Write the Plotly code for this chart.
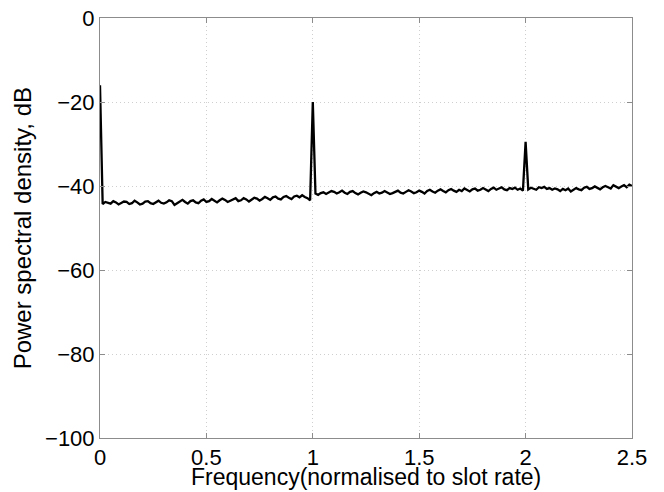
import numpy as np
import plotly.graph_objects as go

# Power spectral density (dB), sampled every 0.0125 of the slot rate from 0 to 2.5
psd_db = [
    -16.0, -44.3, -43.8, -44.0, -44.2, -43.6, -43.9, -44.4, -44.0, -43.7,
    -43.8, -44.3, -44.1, -43.5, -43.9, -44.4, -44.2, -43.7, -43.6, -44.1,
    -44.3, -43.8, -43.5, -44.0, -44.2, -43.9, -43.4, -43.6, -44.5, -44.1,
    -43.7, -43.3, -43.8, -44.2, -43.6, -43.4, -43.9, -44.1, -43.5, -43.2,
    -43.8, -43.6, -43.1, -43.5, -43.9, -43.4, -43.0, -43.3, -43.8, -43.5,
    -43.1, -42.9, -43.6, -43.4, -42.9, -43.2, -43.7, -43.3, -42.8, -43.0,
    -43.5, -43.1, -42.6, -42.9, -43.3, -42.7, -42.5, -43.0, -43.2, -42.6,
    -42.4, -42.8, -43.1, -42.5, -42.3, -42.7, -42.2, -42.6, -42.9, -43.4,
    -20.0, -41.8, -42.1, -41.7, -41.5, -41.9, -41.6, -41.2, -41.4, -41.8,
    -41.5, -41.1, -41.6, -41.9, -41.4, -41.2, -41.7, -42.0, -41.6, -41.3,
    -41.5, -41.9, -42.2, -41.7, -41.4, -41.8, -41.6, -41.2, -41.5, -41.9,
    -41.7, -41.3, -41.1, -41.6, -41.8, -41.4, -41.0, -41.3, -41.7, -41.5,
    -41.1, -41.4, -41.8, -41.2, -40.9, -41.3, -41.6, -41.1, -40.8, -41.2,
    -41.5, -41.0, -40.7, -41.1, -41.4, -40.9, -41.2, -40.6, -40.9, -41.3,
    -40.8, -40.6, -41.1, -40.9, -40.5, -40.8, -41.2, -40.7, -40.4, -40.9,
    -40.6, -40.3, -40.8, -41.0, -40.5, -40.7, -40.4, -40.9, -40.6, -41.1,
    -29.5, -40.8, -40.4, -40.6, -40.9, -40.3, -40.5, -40.2, -40.7, -40.5,
    -40.9, -40.6, -40.8, -41.2, -40.7, -41.0, -40.6, -41.3, -40.9, -40.5,
    -40.8, -41.0, -40.4, -40.2, -40.7, -40.5, -40.1, -40.4, -40.8, -40.3,
    -40.0, -40.3, -40.6, -39.8, -40.2, -40.5, -40.1, -39.8, -40.3, -39.7,
    -40.0,
]
freq = np.linspace(0.0, 2.5, len(psd_db))

x_ticks = [0, 0.5, 1, 1.5, 2, 2.5]
x_tick_labels = ["0", "0.5", "1", "1.5", "2", "2.5"]
y_ticks = [-100, -80, -60, -40, -20, 0]

FONT = "Liberation Sans, Arial, Helvetica, sans-serif"
AXIS_GREY = "#8c8c8c"
GRID_GREY = "#cfcfcf"

fig = go.Figure()
fig.add_trace(go.Scatter(
    x=freq, y=psd_db, mode="lines",
    line=dict(color="black", width=2.3),
    showlegend=False,
))

axis_common = dict(
    showline=True, linecolor=AXIS_GREY, linewidth=1, mirror="ticks",
    ticks="inside", ticklen=5, tickcolor=AXIS_GREY,
    showgrid=True, gridcolor=GRID_GREY, griddash="1px,3px", gridwidth=1,
    zeroline=False, automargin=False,
    tickfont=dict(family=FONT, size=22, color="black"),
)

fig.update_xaxes(range=[0, 2.5], tickvals=x_ticks, ticktext=x_tick_labels,
                 ticklabelstandoff=0, **axis_common)
fig.update_yaxes(range=[-100, 0], tickvals=y_ticks, **axis_common)

# axis titles
fig.add_annotation(
    text="Frequency(normalised to slot rate)",
    xref="paper", yref="paper", x=0.5, y=-0.1286,
    xanchor="center", yanchor="bottom", showarrow=False,
    font=dict(family=FONT, size=23, color="black"),
)
fig.add_annotation(
    text="Power spectral density, dB",
    xref="paper", yref="paper", x=-0.146, y=0.5,
    xanchor="center", yanchor="middle", textangle=-90, showarrow=False,
    font=dict(family=FONT, size=24, color="black"),
)

fig.update_layout(
    width=664, height=492,
    margin=dict(l=100, r=32, t=18, b=54),
    paper_bgcolor="white", plot_bgcolor="white",
)

fig.write_html("out.html")
